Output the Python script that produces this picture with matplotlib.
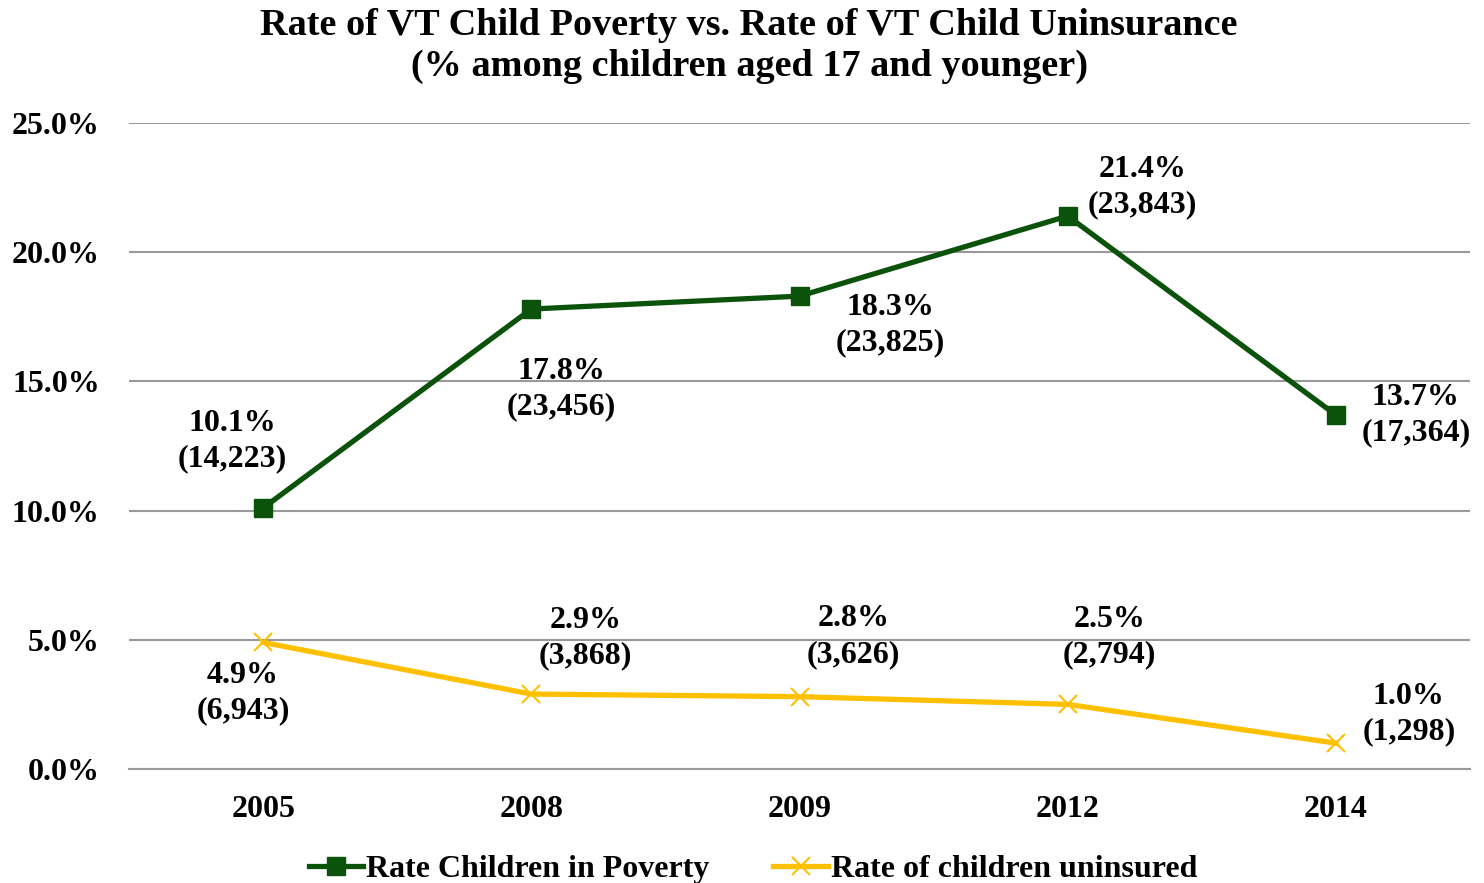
import numpy as np
import matplotlib.pyplot as plt

years = ['2005', '2008', '2009', '2012', '2014']
poverty = [10.1, 17.8, 18.3, 21.4, 13.7]
poverty_n = ['14,223', '23,456', '23,825', '23,843', '17,364']
uninsured = [4.9, 2.9, 2.8, 2.5, 1.0]
uninsured_n = ['6,943', '3,868', '3,626', '2,794', '1,298']

# label offsets in pixels (dx, dy)
pov_off = [(-31, 67), (30, -80), (91, -29), (75, 29), (80, 0)]
unin_off = [(-20, -51), (54, 56), (54, 60), (42, 67), (73, 29)]

plt.rcParams['font.family'] = ['Liberation Serif', 'DejaVu Serif']
plt.rcParams['font.weight'] = 'bold'

GREEN = '#0B520B'
GOLD = '#FFC000'
FS = 23

fig = plt.figure(figsize=(14.84, 8.83), dpi=100)
ax = fig.add_axes([129 / 1484, 1 - 769 / 883, (1470 - 129) / 1484, (769 - 123) / 883])

x = np.arange(len(years))
ax.plot(x, poverty, color=GREEN, lw=3.8, marker='s', ms=13, label='Rate Children in Poverty')
ax.plot(x, uninsured, color=GOLD, lw=3.8, marker='x', ms=13, mew=1.5, label='Rate of children uninsured')

for i in range(len(years)):
    ax.annotate(f'{poverty[i]:.1f}%\n({poverty_n[i]})', (x[i], poverty[i]),
                xytext=pov_off[i], textcoords='offset pixels', ha='center', va='center',
                fontsize=FS, fontweight='bold', linespacing=1.3)
    ax.annotate(f'{uninsured[i]:.1f}%\n({uninsured_n[i]})', (x[i], uninsured[i]),
                xytext=unin_off[i], textcoords='offset pixels', ha='center', va='center',
                fontsize=FS, fontweight='bold', linespacing=1.3)

ax.set_xlim(-0.5, 4.5)
ax.set_ylim(0, 25)
ax.set_yticks(np.arange(0, 26, 5))
ax.set_yticklabels([f'{v:.1f}%' for v in np.arange(0, 26, 5)])
ax.set_xticks(x)
ax.set_xticklabels(years)
ax.tick_params(axis='both', length=0, labelsize=FS)
ax.tick_params(axis='x', pad=19)
ax.tick_params(axis='y', pad=21)
for lbl in ax.get_xticklabels() + ax.get_yticklabels():
    lbl.set_fontweight('bold')
ax.grid(axis='y', color='#999999', lw=1.5)
ax.set_axisbelow(True)
for s in ['top', 'right', 'left']:
    ax.spines[s].set_visible(False)
ax.spines['bottom'].set_color('#999999')
ax.spines['bottom'].set_linewidth(1.5)

fig.text(749 / 1484, 1 - 46 / 883, 'Rate of VT Child Poverty vs. Rate of VT Child Uninsurance\n(% among children aged 17 and younger)',
         ha='center', va='center', fontsize=27.5, fontweight='bold', linespacing=1.25)

fig.legend(loc='center', bbox_to_anchor=(753 / 1484, 1 - 869 / 883), ncol=2, frameon=False,
           handlelength=1.7, columnspacing=2.0, handletextpad=0.1,
           prop={'weight': 'bold', 'size': FS})

fig.savefig('out.png', dpi=100)
